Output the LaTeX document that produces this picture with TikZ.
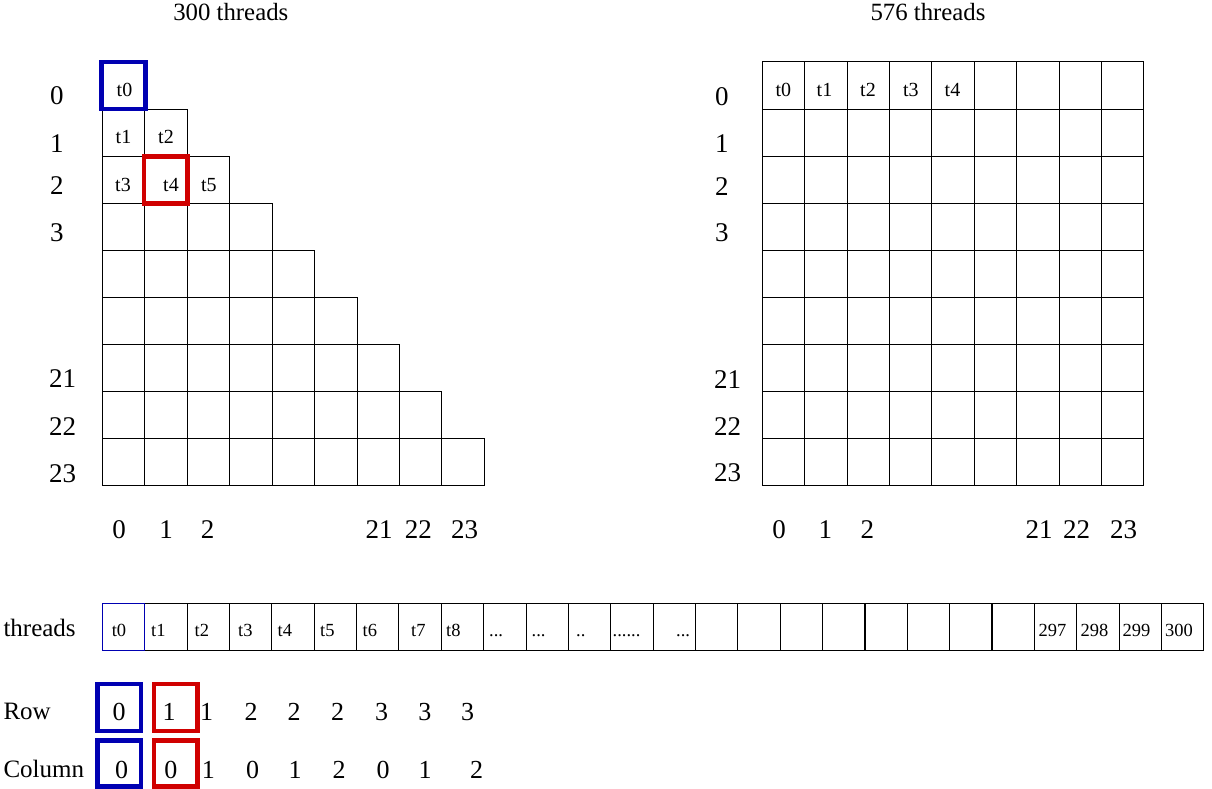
\documentclass[tikz,border=0pt]{standalone}
\usepackage{fontspec}
\setmainfont{Liberation Serif}
\definecolor{hlblue}{RGB}{0,0,178}
\definecolor{hlred}{RGB}{208,0,0}
\begin{document}
\begin{tikzpicture}[x=1pt,y=-1pt,
  cell/.style={draw,line width=1pt,minimum width=42.45pt,minimum height=47.1pt,inner sep=0pt,outer sep=0pt},
  tcell/.style={draw,line width=1pt,minimum width=42.37pt,minimum height=47.4pt,inner sep=0pt,outer sep=0pt},
  hbox/.style={draw,line width=4.6pt,minimum width=43.6pt,minimum height=47pt,inner sep=0pt,outer sep=0pt},
  title/.style={font=\fontsize{24.8}{28}\selectfont,anchor=base,inner sep=0pt},
  axis/.style={font=\fontsize{27}{30}\selectfont,anchor=base west,inner sep=0pt},
  axisc/.style={font=\fontsize{27}{30}\selectfont,anchor=base,inner sep=0pt},
  ctext/.style={font=\fontsize{20}{22}\selectfont,anchor=base,inner sep=0pt},
  ttext/.style={font=\fontsize{18.5}{20}\selectfont,anchor=base west,inner sep=0pt},
  lab/.style={font=\fontsize{25}{28}\selectfont,anchor=base west,inner sep=0pt},
  val/.style={font=\fontsize{26}{29}\selectfont,anchor=base,inner sep=0pt}]
\useasboundingbox (0,0) rectangle (1212,789);

% titles
\node[title] (title300) at (230.8,21) {300 threads};
\node[title] (title576) at (928,21) {576 threads};

% left triangular grid
\foreach \r in {0,...,8}{
  \foreach \c in {0,...,\r}{
    \node[cell] (L-\r-\c) at ({102.3+42.45*\c+21.225},{62+47.1*\r+23.55}) {};
  }
}
\node[hbox,draw=hlblue] (Lblue) at (L-0-0) {};
\node[hbox,draw=hlred] (Lred) at (L-2-1) {};
\node[ctext] (lt0) at (124.5,97) {t0};
\node[ctext] (lt1) at (123.5,143) {t1};
\node[ctext] (lt2) at (166,143) {t2};
\node[ctext] (lt3) at (123,191) {t3};
\node[ctext] (lt4) at (171,191) {t4};
\node[ctext] (lt5) at (208.8,191) {t5};

% left row labels
\node[axis] (lr0) at (50,105) {0};
\node[axis] (lr1) at (50,152) {1};
\node[axis] (lr2) at (50,194) {2};
\node[axis] (lr3) at (50,241) {3};
\node[axis] (lr21) at (49,387) {21};
\node[axis] (lr22) at (49,435) {22};
\node[axis] (lr23) at (49,482) {23};
% left column labels
\node[axisc] (lc0) at (119,538) {0};
\node[axisc] (lc1) at (166,538) {1};
\node[axisc] (lc2) at (207.5,538) {2};
\node[axisc] (lc21) at (379,538) {21};
\node[axisc] (lc22) at (418.3,538) {22};
\node[axisc] (lc23) at (464.5,538) {23};

% right square grid
\foreach \r in {0,...,8}{
  \foreach \c in {0,...,8}{
    \node[cell] (R-\r-\c) at ({762.3+42.4*\c+21.2},{62+47.1*\r+23.55}) {};
  }
}
\node[ctext] (rt0) at (783.3,96.7) {t0};
\node[ctext] (rt1) at (824.5,96.7) {t1};
\node[ctext] (rt2) at (868,96.7) {t2};
\node[ctext] (rt3) at (910.8,96.7) {t3};
\node[ctext] (rt4) at (952.5,96.7) {t4};

\node[axis] (rr0) at (715,105.3) {0};
\node[axis] (rr1) at (715,152) {1};
\node[axis] (rr2) at (715,195) {2};
\node[axis] (rr3) at (715,241.7) {3};
\node[axis] (rr21) at (714,388) {21};
\node[axis] (rr22) at (714,435) {22};
\node[axis] (rr23) at (714,481.7) {23};
\node[axisc] (rc0) at (779,538) {0};
\node[axisc] (rc1) at (825.3,538) {1};
\node[axisc] (rc2) at (867.3,538) {2};
\node[axisc] (rc21) at (1039,538) {21};
\node[axisc] (rc22) at (1076.7,538) {22};
\node[axisc] (rc23) at (1123.7,538) {23};

% threads array
\node[lab] (threadslab) at (3.3,636) {threads};
\foreach \i in {0,...,25}{
  \node[tcell] (T-\i) at ({102.3+42.37*\i+21.185},627) {};
}
\foreach \i in {18,19,20}{
  \node[tcell,line width=1.35pt] (TB-\i) at ({102.3+42.37*\i+21.185},627) {};
}
\node[tcell,draw=hlblue] (T0b) at (T-0) {};
\node[font=\fontsize{18.5}{20}\selectfont,anchor=base,inner sep=0pt] (tt0) at (119,636) {t0};
\node[ttext] (tt1) at (151,636) {t1};
\node[ttext] (tt2) at (194.5,636) {t2};
\node[ttext] (tt3) at (238,636) {t3};
\node[ttext] (tt4) at (277.5,636) {t4};
\node[ttext] (tt5) at (320,636) {t5};
\node[ttext] (tt6) at (362.5,636) {t6};
\node[ttext] (tt7) at (411,636) {t7};
\node[ttext] (tt8) at (446,636) {t8};
\node[ttext] (td1) at (489,636) {...};
\node[ttext] (td2) at (531.5,636) {...};
\node[ttext] (td3) at (576,636) {..};
\node[ttext] (td4) at (612.5,636) {......};
\node[ttext] (td5) at (676,636) {...};
\node[ttext] (t297) at (1038.5,636) {297};
\node[ttext] (t298) at (1080.5,636) {298};
\node[ttext] (t299) at (1122.5,636) {299};
\node[ttext] (t300) at (1165,636) {300};

% Row / Column
\node[lab] (rowlab) at (3.3,719.5) {Row};
\node[lab] (collab) at (3.3,777.5) {Column};
\node[hbox,draw=hlblue] (rowblue) at (119,707.5) {};
\node[hbox,draw=hlred] (rowred) at (175.8,707.5) {};
\node[hbox,draw=hlblue,minimum height=46pt] (colblue) at (119,763.7) {};
\node[hbox,draw=hlred,minimum height=46pt] (colred) at (175.8,763.7) {};

\foreach \v/\x [count=\k] in {0/119,1/169,1/206.7,2/251,2/294,2/337.5,3/381.7,3/424.8,3/467.5}{
  \node[val] (rv\k) at (\x,720) {\v};
}
\foreach \v/\x [count=\k] in {0/121.7,0/170.8,1/208.3,0/252.5,1/295,2/339,0/383,1/425,2/476.7}{
  \node[val] (cv\k) at (\x,778) {\v};
}
\end{tikzpicture}
\end{document}
